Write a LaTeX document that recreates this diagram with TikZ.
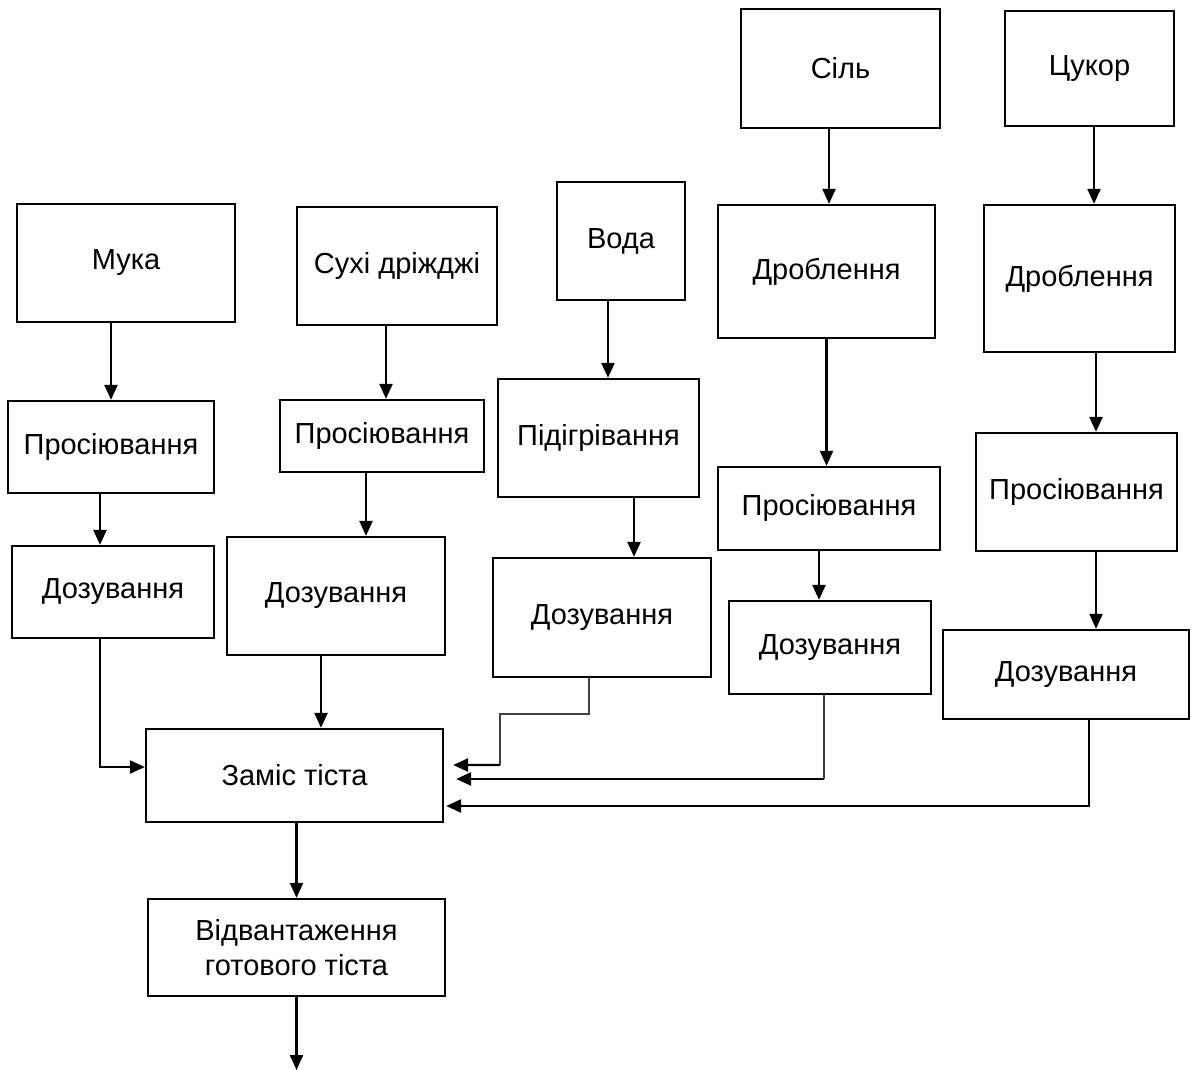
\documentclass[tikz,border=0pt]{standalone}
\usepackage{fontspec}
\setmainfont{Liberation Sans}
\usetikzlibrary{arrows.meta}
\begin{document}
\begin{tikzpicture}[x=0.02cm, y=-0.02cm, line width=1.3pt]
  % Define styles
  \tikzstyle{block} = [rectangle, draw, inner sep=0pt, align=center, font=\fontsize{16.5}{20}\selectfont]
  \tikzstyle{arrow} = [line width=1.3pt, -{Triangle[length=0.3cm, width=0.26cm]}]
  \tikzstyle{link} = [line width=1pt, draw=black!75]
  \useasboundingbox (0,0) rectangle (1195,1070);

  % Row 1: raw materials
  \node[block, minimum width=4.36cm, minimum height=2.36cm] (muka) at (126,263) {Мука};
  \node[block, minimum width=4.00cm, minimum height=2.36cm] (dri) at (397,266) {Сухі дріжджі};
  \node[block, minimum width=2.56cm, minimum height=2.36cm] (voda) at (621,241) {Вода};
  \node[block, minimum width=3.98cm, minimum height=2.38cm] (sil) at (840.5,68.5) {Сіль};
  \node[block, minimum width=3.38cm, minimum height=2.30cm] (tsukor) at (1089.5,68.5) {Цукор};

  % Row 2: preparation
  \node[block, minimum width=4.12cm, minimum height=1.84cm] (pros1) at (111,447) {Просіювання};
  \node[block, minimum width=4.08cm, minimum height=1.44cm] (pros2) at (382,436) {Просіювання};
  \node[block, minimum width=4.02cm, minimum height=2.36cm] (pidig) at (598.5,438) {Підігрівання};
  \node[block, minimum width=4.34cm, minimum height=2.66cm] (drob1) at (826.5,271.5) {Дроблення};
  \node[block, minimum width=3.82cm, minimum height=2.94cm] (drob2) at (1079.5,278.5) {Дроблення};
  \node[block, minimum width=4.44cm, minimum height=1.66cm] (pros3) at (829,508.5) {Просіювання};
  \node[block, minimum width=4.02cm, minimum height=2.36cm] (pros4) at (1076.5,492) {Просіювання};

  % Row 3: dosing
  \node[block, minimum width=4.04cm, minimum height=1.84cm] (doz1) at (113,592) {Дозування};
  \node[block, minimum width=4.36cm, minimum height=2.36cm] (doz2) at (336,596) {Дозування};
  \node[block, minimum width=4.36cm, minimum height=2.38cm] (doz3) at (602,617.5) {Дозування};
  \node[block, minimum width=4.04cm, minimum height=1.86cm] (doz4) at (830,647.5) {Дозування};
  \node[block, minimum width=4.92cm, minimum height=1.78cm] (doz5) at (1066,674.5) {Дозування};

  % Row 4: dough
  \node[block, minimum width=5.94cm, minimum height=1.86cm] (zamis) at (294.5,775.5) {Заміс тіста};
  \node[block, minimum width=5.94cm, minimum height=1.94cm] (vidv) at (296.5,947.5) {Відвантаження\\готового тіста};
  \coordinate (out) at (300,1070);

  % Arrows: flour and yeast
  \draw[arrow] (pros1.north |- muka.south) -- (pros1.north);
  \draw[arrow] ([xshift=-0.22cm]pros1.south) -- ([xshift=-0.22cm]pros1.south |- doz1.north);
  \draw[arrow] ([xshift=-0.26cm]doz1.south) |- ([yshift=0.17cm]zamis.west);
  \draw[arrow] ([xshift=-0.22cm]dri.south) -- ([xshift=-0.22cm]dri.south |- pros2.north);
  \draw[arrow] ([xshift=-0.32cm]pros2.south) -- ([xshift=-0.32cm]pros2.south |- doz2.north);
  \draw[arrow] ([xshift=-0.30cm]doz2.south) -- ([xshift=-0.30cm]doz2.south |- zamis.north);

  % Arrows: water
  \draw[arrow] ([xshift=-0.26cm]voda.south) -- ([xshift=-0.26cm]voda.south |- pidig.north);
  \draw[arrow] ([xshift=0.71cm]pidig.south) -- ([xshift=0.71cm]pidig.south |- doz3.north);
  \draw[link] ([xshift=-0.26cm]doz3.south) |- (500,714) -- (500,765);
  \draw[arrow] (500,765) -- ([xshift=0.18cm, yshift=0.21cm]zamis.east);

  % Arrows: salt
  \draw[arrow] ([xshift=-0.23cm]sil.south) -- ([xshift=-0.23cm]sil.south |- drob1.north);
  \draw[arrow] (drob1.south) -- (drob1.south |- pros3.north);
  \draw[arrow] ([xshift=-0.20cm]pros3.south) -- ([xshift=-0.20cm]pros3.south |- doz4.north);
  \draw[link] ([xshift=-0.12cm]doz4.south) -- ([xshift=-0.12cm]doz4.south |- 0,779) coordinate (c4);
  \draw[arrow] (c4) -- ([xshift=0.24cm]c4 -| zamis.east);

  % Arrows: sugar
  \draw[arrow] ([xshift=0.09cm]tsukor.south) -- ([xshift=0.09cm]tsukor.south |- drob2.north);
  \draw[arrow] ([xshift=0.33cm]drob2.south) -- ([xshift=0.33cm]drob2.south |- pros4.north);
  \draw[arrow] ([xshift=0.39cm]pros4.south) -- ([xshift=0.39cm]pros4.south |- doz5.north);
  \draw[arrow] ([xshift=0.46cm]doz5.south) |- ([xshift=0.04cm, yshift=-0.61cm]zamis.east);

  % Output
  \draw[arrow] (vidv.north |- zamis.south) -- (vidv.north);
  \draw[arrow] (vidv.south) -- (vidv.south |- out);
\end{tikzpicture}
\end{document}
